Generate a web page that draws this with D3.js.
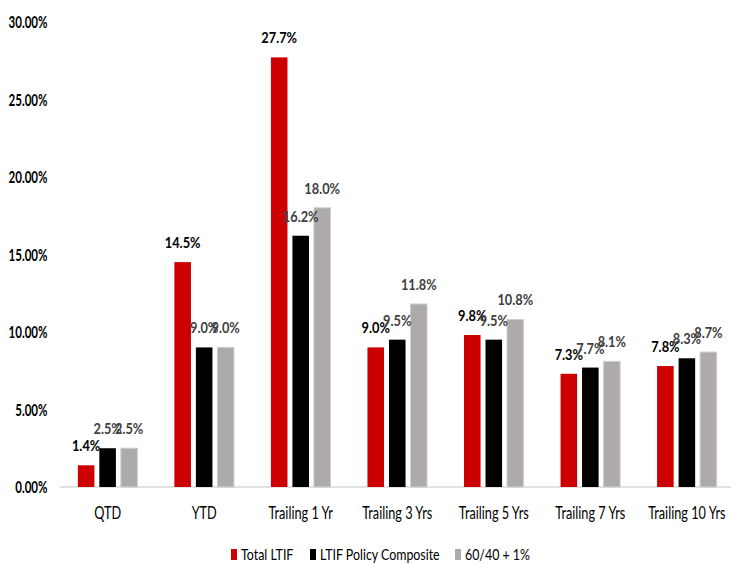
<!DOCTYPE html>
<html lang="en">
<head>
<meta charset="utf-8">
<title>LTIF returns</title>
<script src="https://d3js.org/d3.v7.min.js"></script>
<style>
  body { margin: 0; background: #fff; }
  text { font-family: Lato, "DejaVu Sans Condensed", sans-serif; }
</style>
</head>
<body>
<script>
var w = 731, h = 565;

// data
var categories = ["QTD", "YTD", "Trailing 1 Yr", "Trailing 3 Yrs", "Trailing 5 Yrs", "Trailing 7 Yrs", "Trailing 10 Yrs"];
var seriesNames = ["Total LTIF", "LTIF Policy Composite", "60/40 + 1%"];
var totalLTIF = [1.4, 14.5, 27.7, 9.0, 9.8, 7.3, 7.8];
var policyComposite = [2.5, 9.0, 16.2, 9.5, 9.5, 7.7, 8.3];
var sixtyForty = [2.5, 9.0, 18.0, 11.8, 10.8, 8.1, 8.7];
var yTicks = [0, 5, 10, 15, 20, 25, 30];

var seriesValues = [totalLTIF, policyComposite, sixtyForty];
var fills = ["#cc0000", "#000000", "#aeaaaa"];
var labelColors = ["#000000", "#404040", "#404040"];

// the original font is a narrow one, so squash text horizontally
function squeeze(sel, sx) {
  sel.each(function() {
    var t = d3.select(this);
    var tx = +t.attr("x") || 0, ty = +t.attr("y") || 0;
    t.attr("transform", "translate(" + tx + "," + ty + ") scale(" + sx + ",1)")
      .attr("x", 0).attr("y", 0);
  });
}

var svg = d3.select("body").append("svg")
  .attr("width", w)
  .attr("height", h);

var x0 = d3.scaleBand()
  .domain(categories)
  .range([59.5, 735])
  .paddingInner(0.383)
  .paddingOuter(0.19);

var x1 = d3.scaleBand()
  .domain(seriesNames)
  .range([0, x0.bandwidth()])
  .paddingInner(0.23);

var y = d3.scaleLinear()
  .domain([0, 30])
  .range([487, 21.7]);

// y axis labels only, no line
var yAxis = svg.append("g")
  .attr("transform", "translate(59.5,0)")
  .call(d3.axisLeft(y).tickValues(yTicks).tickSize(0).tickPadding(12)
    .tickFormat(function(d) { return d.toFixed(2) + "%"; }));
yAxis.select(".domain").remove();
yAxis.selectAll("text")
  .attr("font-size", 16.5)
  .attr("font-weight", "bold")
  .attr("fill", "#000")
  .attr("dy", "0.36em")
  .call(squeeze, 0.7);

// baseline
svg.append("line")
  .attr("x1", 59.5).attr("x2", 731)
  .attr("y1", y(0)).attr("y2", y(0))
  .attr("stroke", "#d9d9d9")
  .attr("stroke-width", 1.5);

var rows = categories.map(function(c, i) {
  return seriesNames.map(function(s, j) {
    return { cat: c, series: s, idx: j, value: seriesValues[j][i] };
  });
});

var groups = svg.selectAll("g.cat")
  .data(rows)
  .enter().append("g")
  .attr("class", "cat")
  .attr("transform", function(d, i) { return "translate(" + x0(categories[i]) + ",0)"; });

groups.selectAll("rect")
  .data(function(d) { return d; })
  .enter().append("rect")
  .attr("x", function(d) { return x1(d.series); })
  .attr("y", function(d) { return y(d.value); })
  .attr("width", x1.bandwidth())
  .attr("height", function(d) { return y(0) - y(d.value); })
  .attr("fill", function(d) { return fills[d.idx]; })
  .attr("stroke", function(d) { return d.idx === 2 ? "#d0cece" : "none"; })
  .attr("stroke-width", 1);

groups.selectAll("text.val")
  .data(function(d) { return d; })
  .enter().append("text")
  .attr("class", "val")
  .attr("x", function(d) { return x1(d.series) + x1.bandwidth() / 2; })
  .attr("y", function(d) { return y(d.value) - 14; })
  .attr("text-anchor", "middle")
  .attr("font-size", 16)
  .attr("font-weight", "bold")
  .attr("fill", function(d) { return labelColors[d.idx]; })
  .text(function(d) { return d.value.toFixed(1) + "%"; })
  .call(squeeze, 0.8);

// category labels
svg.selectAll("text.catlabel")
  .data(categories)
  .enter().append("text")
  .attr("class", "catlabel")
  .attr("x", function(d) { return x0(d) + x0.bandwidth() / 2; })
  .attr("y", 519)
  .attr("text-anchor", "middle")
  .attr("font-size", 16.5)
  .attr("fill", "#000")
  .text(function(d) { return d; })
  .call(squeeze, 0.77);

// legend
var legendX = [231, 310, 455];
var legend = svg.selectAll("g.legend")
  .data(seriesNames)
  .enter().append("g")
  .attr("class", "legend")
  .attr("transform", function(d, i) { return "translate(" + legendX[i] + ",549)"; });
legend.append("rect")
  .attr("width", 6).attr("height", 11)
  .attr("fill", function(d, i) { return fills[i]; });
legend.append("text")
  .attr("x", 10).attr("y", 11)
  .attr("font-size", 15.5)
  .attr("fill", "#000")
  .text(function(d) { return d; })
  .call(squeeze, 0.8);
</script>
</body>
</html>
